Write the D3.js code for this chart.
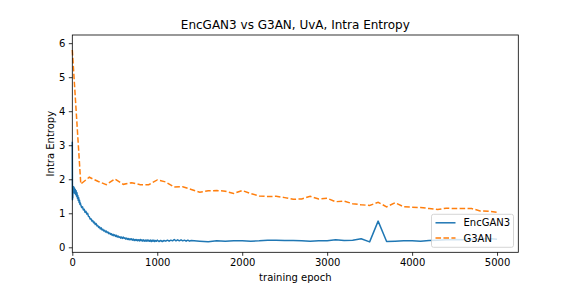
<!DOCTYPE html>
<html>
<head>
    <meta charset="UTF-8">
    <title>EncGAN3 vs G3AN</title>
    <script src="https://d3js.org/d3.v7.min.js"></script>
    <style>
        body { margin: 0; background: #fff; }
        text { font-family: "DejaVu Sans", sans-serif; fill: #000; }
    </style>
</head>
<body>
<svg id="chart"></svg>
<script>
    // EncGAN3: logged densely at the start, then every 100 epochs
    var encEpochs = [0, 2, 4, 6, 8, 12, 16]
        .concat(d3.range(20, 100, 5))
        .concat(d3.range(100, 1000, 10))
        .concat(d3.range(1000, 1400, 20))
        .concat(d3.range(1400, 5001, 100));
    var encValues = [
        3.1, 1.4, 1.8, 1.45, 1.75, 1.6, 1.78,
        1.64, 1.74, 1.58, 1.70, 1.55, 1.66, 1.50, 1.60, 1.44, 1.52, 1.38, 1.46, 1.32, 1.38, 1.26, 1.30,
        1.25, 1.17, 1.19, 1.10, 1.12, 1.03, 1.06, 0.98, 1.00, 0.91,
        0.90, 0.83, 0.84, 0.77, 0.79, 0.72, 0.74, 0.67, 0.70, 0.63,
        0.64, 0.58, 0.60, 0.54, 0.57, 0.51, 0.53, 0.48, 0.50, 0.45,
        0.48, 0.43, 0.45, 0.40, 0.42, 0.38, 0.40, 0.35, 0.38, 0.34,
        0.37, 0.32, 0.35, 0.30, 0.33, 0.29, 0.31, 0.27, 0.30, 0.26,
        0.30, 0.26, 0.28, 0.24, 0.27, 0.23, 0.26, 0.22, 0.25, 0.22,
        0.25, 0.21, 0.24, 0.20, 0.23, 0.20, 0.23, 0.19, 0.22, 0.19,
        0.23, 0.19, 0.22, 0.18, 0.22, 0.18, 0.21, 0.18, 0.22, 0.18,
        0.21, 0.18, 0.21, 0.17, 0.21, 0.18, 0.21, 0.17, 0.20, 0.18,
        0.21, 0.17, 0.2, 0.17, 0.2, 0.18, 0.21, 0.18, 0.21, 0.19,
        0.23, 0.19, 0.22, 0.19, 0.22, 0.19, 0.21, 0.18, 0.21, 0.18,
        0.2, 0.18, 0.16, 0.19, 0.18, 0.19, 0.19, 0.18, 0.19, 0.21, 0.21, 0.2, 0.2, 0.19, 0.18, 0.19, 0.19,
        0.22, 0.2, 0.21, 0.25, 0.16, 0.77, 0.17, 0.18, 0.19, 0.19, 0.18, 0.2, 0.21, 0.22, 0.23,
        0.22, 0.24, 0.25, 0.26, 0.24];

    // G3AN: every 100 epochs
    var g3anEpochs = d3.range(0, 5001, 100);
    var g3anValues = [5.8, 1.86, 2.06, 1.94, 1.84, 2.01, 1.85, 1.9, 1.84, 1.84, 1.98, 1.92, 1.77, 1.78, 1.7, 1.62,
        1.66, 1.67, 1.65, 1.58, 1.67, 1.58, 1.51, 1.49, 1.5, 1.46, 1.41, 1.42, 1.5, 1.42, 1.44, 1.34, 1.36,
        1.28, 1.25, 1.23, 1.32, 1.19, 1.31, 1.19, 1.18, 1.17, 1.14, 1.11, 1.15, 1.14, 1.14, 1.14, 1.07, 1.06, 1.03];

    var xTicks = [0, 1000, 2000, 3000, 4000, 5000];
    var yTicks = [0, 1, 2, 3, 4, 5, 6];

    var W = 576, H = 288;
    var mLeft = 72.3, mRight = 518.3, mTop = 35, mBottom = 252.3;

    var svg = d3.select("#chart").attr("width", W).attr("height", H);

    var x = d3.scaleLinear().domain([0, 5250]).range([mLeft, mRight]);
    var y = d3.scaleLinear().domain([-0.147, 6.24]).range([mBottom, mTop]);

    var line = d3.line()
        .x(function (d) { return x(d[0]); })
        .y(function (d) { return y(d[1]); });

    var encData = encEpochs.map(function (e, i) { return [e, encValues[i]]; });
    var g3anData = g3anEpochs.map(function (e, i) { return [e, g3anValues[i]]; });

    svg.append("path").datum(encData)
        .attr("d", line)
        .attr("fill", "none")
        .attr("stroke", "#1f77b4")
        .attr("stroke-width", 1.5)
        .attr("stroke-linejoin", "round");

    svg.append("path").datum(g3anData)
        .attr("d", line)
        .attr("fill", "none")
        .attr("stroke", "#ff7f0e")
        .attr("stroke-width", 1.5)
        .attr("stroke-dasharray", "5.55,2.4");

    // axes
    var xAxis = svg.append("g")
        .attr("transform", "translate(0," + mBottom + ")")
        .call(d3.axisBottom(x).tickValues(xTicks).tickSize(3.5).tickPadding(3.5).tickFormat(d3.format("d")));
    var yAxis = svg.append("g")
        .attr("transform", "translate(" + mLeft + ",0)")
        .call(d3.axisLeft(y).tickValues(yTicks).tickSize(3.5).tickPadding(3.5).tickFormat(d3.format("d")));

    [xAxis, yAxis].forEach(function (g) {
        g.select(".domain").remove();
        g.selectAll(".tick line").attr("stroke", "#000").attr("stroke-width", 0.8);
        g.selectAll(".tick text").attr("font-size", 10).attr("fill", "#000")
            .attr("font-family", "DejaVu Sans, sans-serif");
    });

    svg.append("rect")
        .attr("x", mLeft).attr("y", mTop)
        .attr("width", mRight - mLeft).attr("height", mBottom - mTop)
        .attr("fill", "none").attr("stroke", "#000").attr("stroke-width", 0.8);

    // labels
    svg.append("text")
        .attr("x", (mLeft + mRight) / 2).attr("y", 28.5)
        .attr("text-anchor", "middle").attr("font-size", 12)
        .text("EncGAN3 vs G3AN, UvA, Intra Entropy");

    svg.append("text")
        .attr("x", (mLeft + mRight) / 2).attr("y", 281)
        .attr("text-anchor", "middle").attr("font-size", 10)
        .text("training epoch");

    svg.append("text")
        .attr("transform", "translate(54," + ((mTop + mBottom) / 2) + ") rotate(-90)")
        .attr("text-anchor", "middle").attr("font-size", 10)
        .text("Intra Entropy");

    // legend
    var lg = svg.append("g").attr("transform", "translate(431.5,214.3)");
    lg.append("rect")
        .attr("width", 82).attr("height", 33).attr("rx", 2)
        .attr("fill", "#fff").attr("fill-opacity", 0.8)
        .attr("stroke", "#cccccc").attr("stroke-width", 0.8);
    var items = [
        { name: "EncGAN3", color: "#1f77b4", dash: null },
        { name: "G3AN", color: "#ff7f0e", dash: "5.55,2.4" }
    ];
    items.forEach(function (it, i) {
        var cy = 8.5 + i * 15.3;
        lg.append("line")
            .attr("x1", 4).attr("x2", 24).attr("y1", cy).attr("y2", cy)
            .attr("stroke", it.color).attr("stroke-width", 1.5)
            .attr("stroke-dasharray", it.dash);
        lg.append("text")
            .attr("x", 32).attr("y", cy + 3.6)
            .attr("font-size", 10)
            .text(it.name);
    });
</script>
</body>
</html>
